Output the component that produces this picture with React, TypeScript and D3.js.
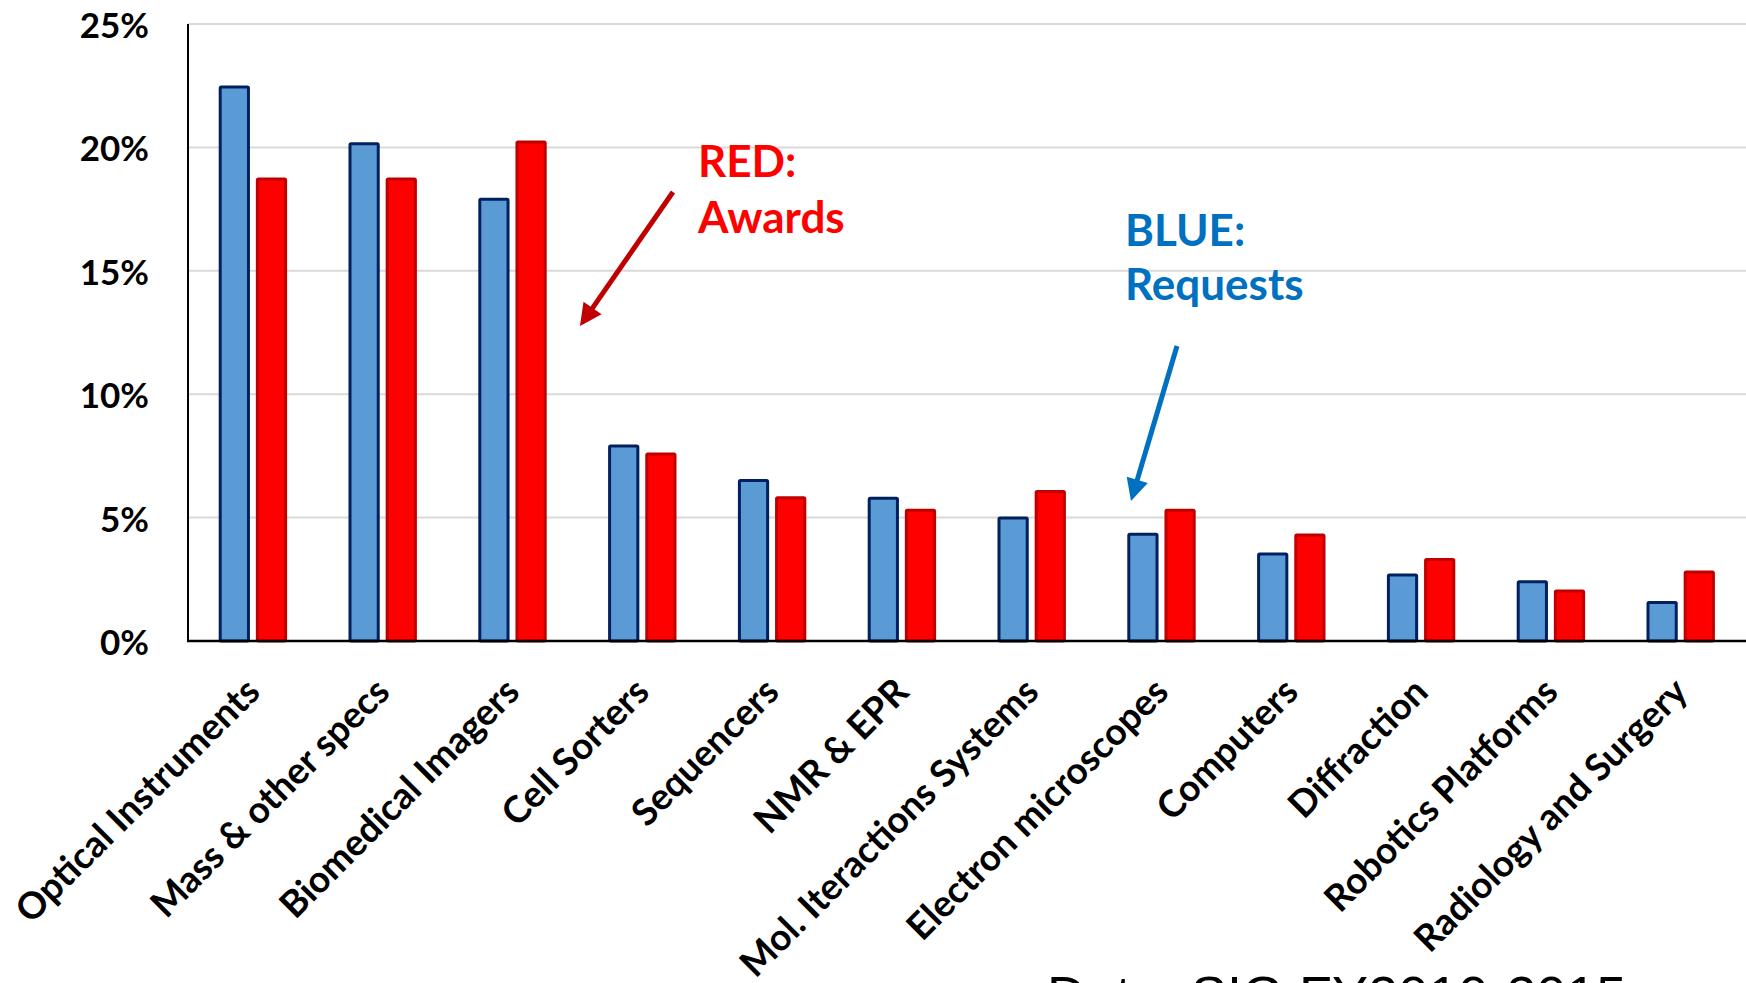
import React from 'react';
import * as d3 from 'd3';

const categories = [
  'Optical Instruments',
  'Mass & other specs',
  'Biomedical Imagers',
  'Cell Sorters',
  'Sequencers',
  'NMR & EPR',
  'Mol. Iteractions Systems',
  'Electron microscopes',
  'Computers',
  'Diffraction',
  'Robotics Platforms',
  'Radiology and Surgery',
];
const requests = [22.45, 20.15, 17.9, 7.9, 6.5, 5.78, 4.98, 4.33, 3.53, 2.67, 2.4, 1.56];
const awards = [18.72, 18.72, 20.22, 7.58, 5.8, 5.3, 6.06, 5.3, 4.3, 3.3, 2.03, 2.8];
const seriesKeys = ['requests', 'awards'];
const yTicks = [0, 5, 10, 15, 20, 25];

const W = 1746;
const H = 983;
const FONT = 'Lato, "Open Sans", sans-serif';

function Arrow({ x1, y1, x2, y2, color, width, headLen, headHalf }) {
  const dx = x2 - x1;
  const dy = y2 - y1;
  const len = Math.sqrt(dx * dx + dy * dy);
  const ux = dx / len;
  const uy = dy / len;
  const bx = x2 - ux * headLen;
  const by = y2 - uy * headLen;
  const px = -uy;
  const py = ux;
  const pts = [
    [x2, y2],
    [bx + px * headHalf, by + py * headHalf],
    [bx - px * headHalf, by - py * headHalf],
  ];
  return (
    <g>
      <line x1={x1} y1={y1} x2={bx + ux * 2} y2={by + uy * 2} stroke={color} strokeWidth={width} />
      <polygon points={pts.map((p) => p.join(',')).join(' ')} fill={color} />
    </g>
  );
}

export default function App() {
  const x = d3.scaleBand().domain(categories).range([188, 1745.6]).padding(0);
  const y = d3.scaleLinear().domain([0, 25]).range([641, 24]);
  const xi = d3.scaleBand().domain(seriesKeys).range([-32.7, 32.7]).paddingInner(0.24);
  const values = { requests, awards };
  const fills = { requests: '#5b9bd5', awards: '#ff0000' };
  const strokes = { requests: '#002060', awards: '#c00000' };

  return (
    <svg
      width={W}
      height={H}
      style={{ position: 'absolute', left: 0, top: 0, background: '#fff', overflow: 'hidden' }}
    >
      <rect x={0} y={0} width={W} height={H} fill="#fff" />
      {yTicks.filter((t) => t > 0).map((t) => (
        <line key={t} x1={188} x2={W} y1={y(t)} y2={y(t)} stroke="#d9d9d9" strokeWidth={2} />
      ))}
      {categories.map((c, i) => (
        <g key={c} transform={`translate(${(x(c) as number) + x.bandwidth() / 2},0)`}>
          {seriesKeys.map((s) => {
            const v = values[s][i];
            return (
              <rect
                key={s}
                x={xi(s)}
                y={y(v)}
                width={xi.bandwidth()}
                height={y(0) - y(v)}
                fill={fills[s]}
                stroke={strokes[s]}
                strokeWidth={3}
                rx={1}
              />
            );
          })}
        </g>
      ))}
      <line x1={188} x2={188} y1={y(25)} y2={y(0)} stroke="#000" strokeWidth={2} />
      <line x1={187} x2={W} y1={y(0)} y2={y(0)} stroke="#000" strokeWidth={2.5} />
      {yTicks.map((t) => (
        <text
          key={t}
          x={149}
          y={y(t)}
          textAnchor="end"
          dominantBaseline="central"
          fontFamily={FONT}
          fontWeight={700}
          fontSize={35}
          fill="#000"
        >
          {`${t}%`}
        </text>
      ))}
      {categories.map((c) => (
        <text
          key={c}
          transform={`translate(${(x(c) as number) + x.bandwidth() / 2 + 9},694) rotate(-45)`}
          textAnchor="end"
          fontFamily={FONT}
          fontWeight={700}
          fontSize={37}
          fill="#000"
        >
          {c}
        </text>
      ))}
      <text x={698} y={177} fontFamily={FONT} fontWeight={700} fontSize={44} fill="#ff0000">RED:</text>
      <text x={698} y={233} fontFamily={FONT} fontWeight={700} fontSize={44} fill="#ff0000">Awards</text>
      <Arrow x1={673} y1={192} x2={580} y2={326} color="#c00000" width={5} headLen={22} headHalf={11} />
      <text x={1125} y={246} fontFamily={FONT} fontWeight={700} fontSize={44} fill="#0070c0">BLUE:</text>
      <text x={1125} y={300} fontFamily={FONT} fontWeight={700} fontSize={44} fill="#0070c0">Requests</text>
      <Arrow x1={1177} y1={346} x2={1131} y2={501} color="#0070c0" width={5} headLen={22} headHalf={11} />
      <text x={1047} y={1014} fontFamily='"Liberation Sans", Arial, sans-serif' fontSize={54} fill="#000">
        Data: SIG FY2010-2015
      </text>
    </svg>
  );
}
